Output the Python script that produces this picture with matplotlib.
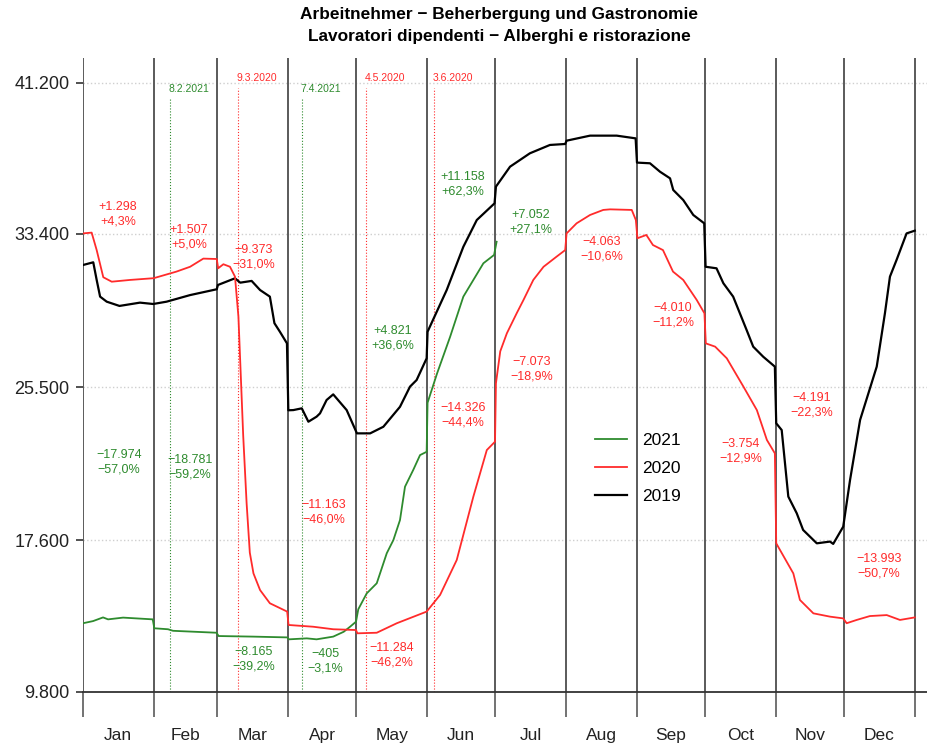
import matplotlib
matplotlib.use('Agg')
import matplotlib.pyplot as plt
import pandas as pd

OUT_FILE = 'out.png'

TITLE_DE = 'Arbeitnehmer \u2212 Beherbergung und Gastronomie'
TITLE_IT = 'Lavoratori dipendenti \u2212 Alberghi e ristorazione'

MONTHS = ['Jan', 'Feb', 'Mar', 'Apr', 'May', 'Jun',
          'Jul', 'Aug', 'Sep', 'Oct', 'Nov', 'Dec']
Y_TICKS = [9800, 17600, 25500, 33400, 41200]

# day of year (0 = 1 Jan) and number of employees
DAYS_2019 = [0, 4.5, 6, 7.5, 10.4, 16, 25, 30.8, 36.7, 47, 58.7, 59.2, 66.7, 69, 74,
             77.7, 82, 84, 86.4, 89.5, 90.1, 92.3, 96, 98.9, 102.5, 104, 106.9, 109.8,
             115.7, 120.2, 126, 131.8, 139.1, 143.5, 146.4, 150.8, 151.2, 159.6, 166.9,
             172.8, 180.6, 181.2, 187.4, 196.1, 204.9, 211.6, 212.2, 222.5, 234.2, 242.5,
             243.1, 248.8, 253.2, 257.6, 259, 263.4, 267.8, 272.6, 273.2, 278, 281, 285.3,
             291.2, 294.1, 298.5, 303.6, 304.2, 306.6, 309.5, 313.2, 316, 322, 327.8,
             329.2, 333.6, 336.6, 341, 348.3, 351.9, 354.1, 357, 361.4, 365]
EMP_2019 = [31800, 31940, 31030, 30170, 29910, 29690, 29860, 29790, 29910, 30250, 30550,
            30770, 31115, 30890, 30980, 30510, 30170, 28800, 28360, 27760, 24310, 24320,
            24410, 23720, 23980, 24150, 24840, 25130, 24320, 23120, 23120, 23460, 24490,
            25530, 25870, 26990, 28360, 30510, 32740, 34120, 34980, 35840, 36870, 37560,
            37990, 38040, 38210, 38470, 38470, 38330, 37080, 37045, 36610, 36270, 35670,
            35150, 34380, 33950, 31710, 31630, 30860, 30170, 28450, 27590, 27070, 26560,
            23640, 23290, 19860, 19000, 18140, 17450, 17540, 17420, 18310, 20720, 23810,
            26560, 29310, 31200, 32060, 33430, 33570]

DAYS_2020 = [0, 3.8, 6, 8.9, 12.6, 20.6, 31, 41, 47, 52.8, 58.7, 59.3, 61.6, 64.5, 66.7,
             68.2, 70.3, 71.8, 73.2, 74.8, 77.7, 82, 89.6, 90.2, 101, 109.8, 119.8, 120.4,
             128.9, 137.7, 150.8, 156.7, 164, 171.3, 177.2, 180.8, 181.2, 183.1, 186,
             190.3, 193.3, 197.6, 202.1, 207.8, 211.6, 212.2, 216.6, 222.5, 228.3, 231.3,
             240.8, 242.6, 243.3, 247.2, 250.1, 254.5, 258.9, 263.4, 269.3, 272.7, 273.3,
             277.4, 282.5, 289.8, 295.7, 300.1, 303.6, 304.2, 311.7, 314.6, 320.5, 327.8,
             333.6, 335.1, 339.5, 345.3, 352.7, 358.5, 365]
EMP_2020 = [33430, 33470, 32570, 31170, 30940, 31030, 31120, 31460, 31710, 32130, 32110,
            31630, 31840, 31710, 31200, 29140, 23000, 19510, 16970, 15900, 15040, 14360,
            13930, 13240, 13150, 13020, 12980, 12810, 12840, 13330, 13930, 14790, 16590,
            19860, 22260, 22690, 25700, 27350, 28280, 29310, 30000, 31030, 31710, 32230,
            32570, 33430, 33950, 34380, 34640, 34670, 34640, 34120, 33180, 33350, 32830,
            32570, 31460, 31030, 30000, 29310, 27760, 27590, 26990, 25530, 24320, 22780,
            22090, 17450, 15900, 14530, 13840, 13670, 13580, 13330, 13500, 13700, 13750,
            13500, 13630]

DAYS_2021 = [0, 4.4, 8.8, 11, 17.6, 30.6, 31.3, 37.3, 39.5, 58.6, 59.5, 74.6, 89.6, 90.4,
             98.2, 102.5, 109.8, 114.4, 117.2, 119.8, 120.8, 124.5, 128.9, 133.3, 136.2,
             139.1, 141.3, 144.9, 147.9, 150.8, 151.2, 155.4, 161.1, 166.9, 175.7, 180.4,
             181.5]
EMP_2021 = [13330, 13440, 13630, 13530, 13620, 13530, 13070, 13020, 12940, 12840, 12670,
            12640, 12600, 12500, 12550, 12500, 12640, 12890, 13150, 13410, 14050, 14870,
            15390, 16940, 17620, 18650, 20370, 21230, 22000, 22170, 24700, 26220, 28100,
            30170, 31890, 32320, 33000]

# monthly changes written on the chart
CHANGE_LABELS_2020 = ['+1.298\n+4,3%', '+1.507\n+5,0%', '\u22129.373\n\u221231,0%',
                      '\u221211.163\n\u221246,0%', '\u221211.284\n\u221246,2%',
                      '\u221214.326\n\u221244,4%', '\u22127.073\n\u221218,9%',
                      '\u22124.063\n\u221210,6%', '\u22124.010\n\u221211,2%',
                      '\u22123.754\n\u221212,9%', '\u22124.191\n\u221222,3%',
                      '\u221213.993\n\u221250,7%']
CHANGE_LABELS_2021 = ['\u221217.974\n\u221257,0%', '\u221218.781\n\u221259,2%',
                      '\u22128.165\n\u221239,2%', '\u2212405\n\u22123,1%',
                      '+4.821\n+36,6%', '+11.158\n+62,3%', '+7.052\n+27,1%']

EVENT_DATES = ['8.2.2021', '9.3.2020', '7.4.2021', '4.5.2020', '3.6.2020']

# label placement (day, value)
POS_2020 = [(15.4, 34430), (46.5, 33240), (75, 32210), (105.7, 19070), (135.6, 11690),
            (166.7, 24070), (197, 26440), (227.7, 32630), (258.9, 29220), (288.7, 22210),
            (319.9, 24580), (349.3, 16280)]
POS_2021 = [(15.8, 21640), (47, 21390), (75, 11490), (106.2, 11380), (136, 28040),
            (166.7, 35980), (196.6, 34020)]

RED = '#ff2b2b'
GREEN = '#2e8b2e'


def month_start_days():
    starts = pd.date_range('2019-01-01', '2020-01-01', freq='MS')
    return [(d - pd.Timestamp('2019-01-01')).days for d in starts]


def draw_frame(ax):
    bounds = month_start_days()
    for d in bounds:
        ax.axvline(d, color='#5a5a5a', lw=1.4, zorder=1)

    mids = [(a + b) / 2 for a, b in zip(bounds[:-1], bounds[1:])]
    ax.set_xticks(bounds)
    ax.set_xticklabels([])
    ax.set_xticks(mids, minor=True)
    ax.set_xticklabels(MONTHS, minor=True)
    ax.tick_params(axis='x', which='major', length=18, width=1.2, color='#5a5a5a')
    ax.tick_params(axis='x', which='minor', length=0, pad=26, labelsize=12.5, labelcolor='#222222')

    ax.set_yticks(Y_TICKS)
    ax.set_yticklabels([f'{v:,}'.replace(',', '.') for v in Y_TICKS])
    ax.tick_params(axis='y', length=5, width=1.2, color='#333333', pad=4.8,
                   labelsize=13, labelcolor='#222222')
    ax.yaxis.grid(True, linestyle=':', color='#cfcfcf', linewidth=1.0)
    ax.set_axisbelow(True)

    for side in ['top', 'right', 'left']:
        ax.spines[side].set_visible(False)
    ax.spines['bottom'].set_color('#333333')
    ax.spines['bottom'].set_linewidth(1.3)

    ax.set_xlim(0, 370.8)
    ax.set_ylim(9800, 42458)


def draw_events(ax):
    for label in EVENT_DATES:
        date = pd.to_datetime(label, format='%d.%m.%Y')
        day = date.dayofyear - 1
        color = GREEN if date.year == 2021 else RED
        y_text = 40875 if date.year == 2021 else 41440
        ax.vlines(day, 9800, y_text - 500, colors=color, linestyles=':', lw=0.8, zorder=2)
        ax.text(day - 0.5, y_text, label, color=color, fontsize=7.5, ha='left', va='center')


def draw_series(ax):
    ax.plot(DAYS_2021, EMP_2021, color=GREEN, lw=1.3, label='2021', zorder=4)
    ax.plot(DAYS_2020, EMP_2020, color=RED, lw=1.3, label='2020', zorder=4)
    ax.plot(DAYS_2019, EMP_2019, color='black', lw=1.6, label='2019', zorder=3)


def draw_labels(ax):
    for text, (x, y) in zip(CHANGE_LABELS_2020, POS_2020):
        ax.text(x, y, text, color=RED, fontsize=9, ha='center', va='center', linespacing=1.3)
    for text, (x, y) in zip(CHANGE_LABELS_2021, POS_2021):
        ax.text(x, y, text, color=GREEN, fontsize=9, ha='center', va='center', linespacing=1.3)


def main():
    plt.rcParams['font.family'] = ['Liberation Sans', 'DejaVu Sans']
    fig = plt.figure(figsize=(9.28, 7.46), dpi=100)
    ax = fig.add_axes([83 / 928, 1 - 691.7 / 746, 1 - 83 / 928, (691.7 - 58.3) / 746])

    draw_frame(ax)
    draw_events(ax)
    draw_series(ax)
    draw_labels(ax)

    ax.legend(loc='center left', bbox_to_anchor=(594.6 / 928, 1 - 468.4 / 746),
              bbox_transform=fig.transFigure, frameon=False, fontsize=12.5,
              handlelength=1.85, handletextpad=0.9, labelspacing=0.72,
              borderpad=0, borderaxespad=0)

    fig.text(499.5 / 928, 1 - 15 / 746, TITLE_DE, ha='center', va='center',
             fontsize=12.4, fontweight='bold')
    fig.text(499.5 / 928, 1 - 36 / 746, TITLE_IT, ha='center', va='center',
             fontsize=12.4, fontweight='bold')

    fig.savefig(OUT_FILE, dpi=100)
    plt.close(fig)


if __name__ == "__main__":
    main()
